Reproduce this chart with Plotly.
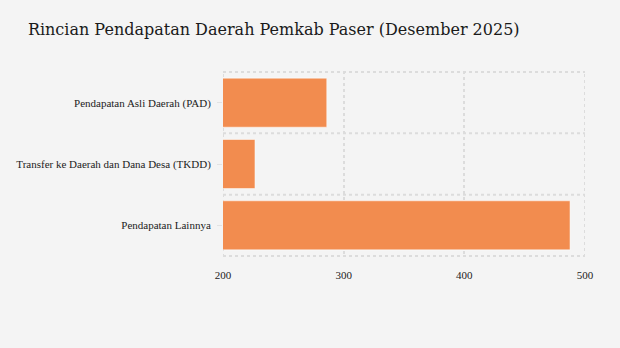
import plotly.graph_objects as go

categories = [
    "Pendapatan Asli Daerah (PAD)",
    "Transfer ke Daerah dan Dana Desa (TKDD)",
    "Pendapatan Lainnya",
]
values = [286, 226.5, 487.6]
x_ticks = [200, 300, 400, 500]

bg = "#f4f4f4"
grid = "#dcdcdc"

fig = go.Figure(
    go.Bar(
        x=values,
        y=categories,
        orientation="h",
        marker=dict(color="#f28c4f", line=dict(color="rgba(255,255,255,0.5)", width=1)),
        width=0.8,
    )
)

# dotted separators between categories, plus a dotted frame on the sides
shapes = []
for i in range(len(categories) + 1):
    shapes.append(dict(
        type="line", xref="paper", yref="y", x0=0, x1=1,
        y0=i - 0.5, y1=i - 0.5,
        line=dict(color=grid, width=2, dash="dot"), layer="below",
    ))
for xv in (x_ticks[0], x_ticks[-1]):
    shapes.append(dict(
        type="line", xref="x", yref="paper", x0=xv, x1=xv, y0=0, y1=1,
        line=dict(color=grid, width=2, dash="dot"), layer="below",
    ))

fig.update_layout(
    width=620,
    height=348,
    paper_bgcolor=bg,
    plot_bgcolor=bg,
    margin=dict(l=223, r=35, t=71, b=91),
    title=dict(
        text="Rincian Pendapatan Daerah Pemkab Paser (Desember 2025)",
        x=0.045, xanchor="left", y=0.915, yanchor="middle",
        font=dict(family="DejaVu Serif", size=16, color="#1a1a1a"),
    ),
    font=dict(family="Liberation Serif", size=11, color="#222222"),
    showlegend=False,
    shapes=shapes,
    bargap=0.2,
)
fig.update_xaxes(
    range=[200, 500],
    tickvals=x_ticks,
    showgrid=True, gridcolor=grid, griddash="dot", gridwidth=2,
    zeroline=False,
    ticks="outside", ticklen=8, tickcolor=bg,
    tickfont=dict(family="Liberation Serif", size=11, color="#222222"),
)
fig.update_yaxes(
    autorange="reversed",
    showgrid=False,
    ticks="outside", ticklen=5, tickcolor="#e2e2e2",
    ticklabelstandoff=4,
    tickfont=dict(family="Liberation Serif", size=11, color="#222222"),
)

fig.write_html("out.html")
